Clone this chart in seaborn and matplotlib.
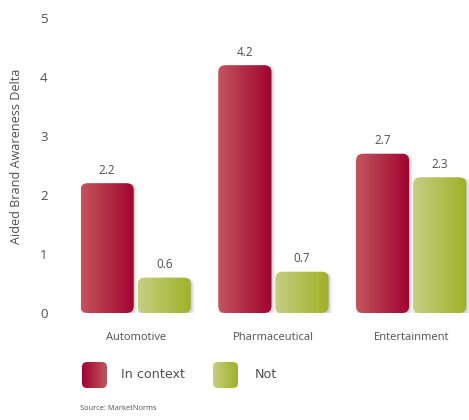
import numpy as np
import pandas as pd
import matplotlib
matplotlib.use("Agg")
import matplotlib.pyplot as plt
import seaborn as sns
from matplotlib.patches import FancyBboxPatch
from matplotlib.colors import LinearSegmentedColormap

# ---- data -------------------------------------------------------------
categories = ["Automotive", "Pharmaceutical", "Entertainment"]
series = ["In context", "Not"]
in_context = [2.2, 4.2, 2.7]
not_in_context = [0.6, 0.7, 2.3]
y_ticks = [0, 1, 2, 3, 4, 5]
y_label = "Aided Brand Awareness Delta"
source_note = "Source: MarketNorms"

df = pd.DataFrame({
    "Category": categories * 2,
    "Group": [series[0]] * len(categories) + [series[1]] * len(categories),
    "Delta": in_context + not_in_context,
})

# ---- style --------------------------------------------------------------
sns.set_theme(style="white")
plt.rcParams["font.family"] = ["Open Sans", "DejaVu Sans"]
TEXT = "#505050"

red_cmap = LinearSegmentedColormap.from_list("red", ["#c2565f", "#a1022f"])
green_cmap = LinearSegmentedColormap.from_list("green", ["#c5cf82", "#9fb126"])
cmaps = {series[0]: red_cmap, series[1]: green_cmap}

W, H = 469, 420
fig = plt.figure(figsize=(W / 100, H / 100), dpi=100)
ax_l, ax_b, ax_w, ax_h = 60, 107, 409, 295
ax = fig.add_axes([ax_l / W, ax_b / H, ax_w / W, ax_h / H])

xlim = (-0.55, 2.42)
ylim = (0, 5)

sns.barplot(data=df, x="Category", y="Delta", hue="Group", order=categories,
            hue_order=series, palette=["#b02040", "#b0c050"], width=0.83,
            gap=0.07, legend=False, ax=ax)

# ratio of pixels per x unit to pixels per y unit, keeps corners circular
px_x = ax_w / (xlim[1] - xlim[0])
px_y = ax_h / (ylim[1] - ylim[0])
aspect = px_x / px_y
radius = 7 / px_x


def gradient_box(axis, x0, y0, w, h, cmap, r, asp, shadow=True, z=2):
    if shadow:
        for k, a in [(3.0, 0.04), (2.0, 0.06), (1.0, 0.08)]:
            sh = FancyBboxPatch((x0 + k / px_x * 0.7, y0 - k / px_y * 0.9), w, h,
                                boxstyle=f"round,pad={k / px_x * 0.6},rounding_size={r}",
                                mutation_aspect=asp, fc="#000000", ec="none",
                                alpha=a, zorder=z - 0.5, transform=axis.transData)
            axis.add_patch(sh)
    box = FancyBboxPatch((x0, y0), w, h, boxstyle=f"round,pad=0,rounding_size={r}",
                         mutation_aspect=asp, fc="none", ec="none",
                         zorder=z, transform=axis.transData)
    axis.add_patch(box)
    grad = np.linspace(0, 1, 256).reshape(1, -1)
    im = axis.imshow(grad, cmap=cmap, extent=[x0, x0 + w, y0, y0 + h],
                     aspect="auto", origin="lower", zorder=z, interpolation="bicubic")
    im.set_clip_path(box)
    return box


for container, name in zip(ax.containers, series):
    for bar, val in zip(container, container.datavalues):
        x0, w, h = bar.get_x(), bar.get_width(), bar.get_height()
        bar.set_visible(False)
        gradient_box(ax, x0, 0, w, h, cmaps[name], radius, aspect)
        ax.text(x0 + w / 2, h + 0.11, f"{val:.1f}", ha="center", va="bottom",
                fontsize=8.5, color=TEXT)

ax.set_xlim(*xlim)
ax.set_ylim(*ylim)
ax.set_yticks(y_ticks)
ax.set_yticklabels([str(t) for t in y_ticks])
ax.set_xlabel("")
ax.set_ylabel("")
ax.tick_params(axis="y", length=0, pad=9, labelsize=9.5, labelcolor=TEXT)
ax.tick_params(axis="x", length=0, pad=14, labelsize=8, labelcolor=TEXT)
sns.despine(ax=ax, left=True, bottom=True)

fig.text(17 / W, 1 - 156 / H, y_label, rotation=90, ha="center", va="center",
         fontsize=9.1, color=TEXT)

# ---- legend row drawn in pixel space ----------------------------------
lax = fig.add_axes([0, 0, 1, 1], zorder=3)
lax.set_xlim(0, W)
lax.set_ylim(H, 0)
lax.axis("off")
leg_cmaps = [LinearSegmentedColormap.from_list("r2", ["#a1022f", "#c2565f"]), green_cmap]
for (bx, tx), name, cm in zip([(82, 121), (213, 255)], series, leg_cmaps):
    gradient_box(lax, bx, 362, 25, 26, cm, 5, 1, shadow=False)
    lax.text(tx, 375, name, ha="left", va="center", fontsize=9.2, color=TEXT,
             family=["DejaVu Sans"])
lax.set_xlim(0, W)
lax.set_ylim(H, 0)

fig.text(80 / W, 1 - 408 / H, source_note, ha="left", va="center",
         fontsize=5.4, color=TEXT)

fig.savefig("out.png", dpi=100)
